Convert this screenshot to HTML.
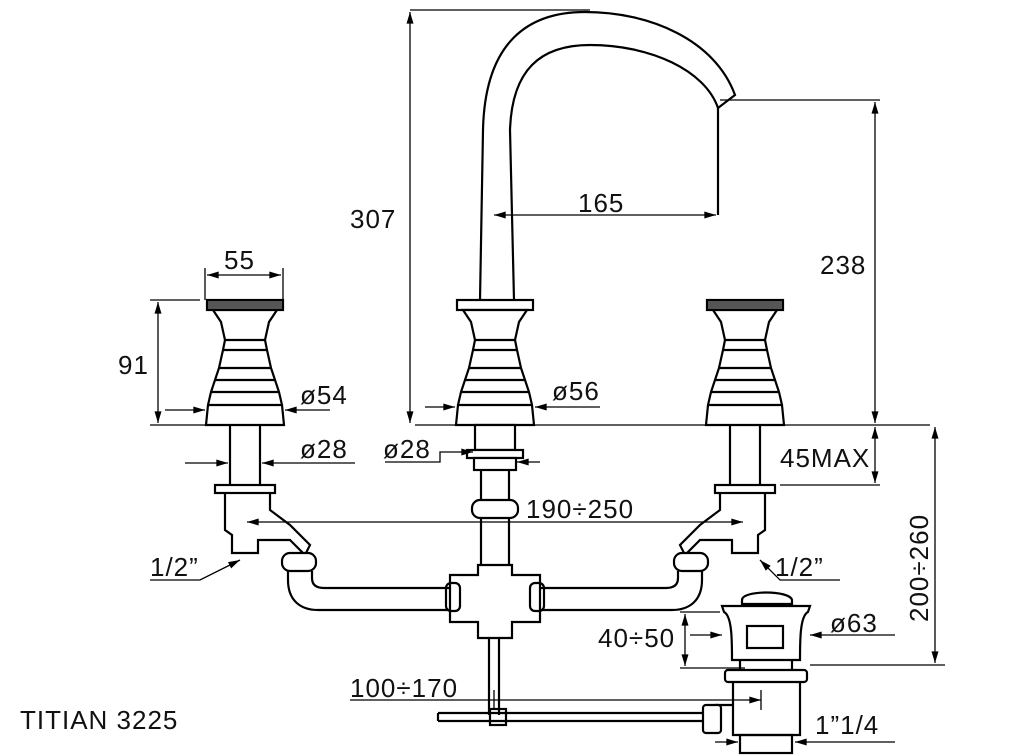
<!DOCTYPE html>
<html><head><meta charset="utf-8"><style>
html,body{margin:0;padding:0;background:#fff}
svg{display:block}
text{font-family:"Liberation Sans",sans-serif;font-size:26px;fill:#111;letter-spacing:1px}
</style></head><body>
<svg width="1024" height="755" viewBox="0 0 1024 755" xmlns="http://www.w3.org/2000/svg">
<defs>
<marker id="a" viewBox="0 0 10 6" refX="10" refY="3" markerWidth="16" markerHeight="7" orient="auto-start-reverse" markerUnits="userSpaceOnUse"><path d="M0,0L10,3L0,6z" fill="#000"/></marker>
<g id="h" fill="#fff" stroke="#000" stroke-width="2.2">
<rect x="-38" y="300" width="76" height="10"/>
<path d="M-32,310 L-24,322 L-20,340 L-22,350 L-26,368 L-30,380 L-34,392 L-37,405 L-39,425 L39,425 L37,405 L34,392 L30,380 L26,368 L22,350 L20,340 L24,322 L32,310Z"/>
<path d="M-20,340H20M-22,350H22M-26,368H26M-30,380H30M-34,392H34M-37,405H37"/>
</g>
<g id="hk"><rect x="-38" y="300" width="76" height="10" fill="#555" stroke="#000" stroke-width="2"/></g>
</defs>
<g fill="none" stroke="#000" stroke-width="2.2">
<path d="M480,300 L483,130 C485,40 530,12 585,12 C650,12 715,40 735,95 L718,108 C705,70 650,45 590,45 C540,45 512,70 510,130 L514,300"/>
<path d="M718,108 L718,215"/>
<use href="#h" transform="translate(495,0)"/>
<use href="#h" transform="translate(245,0)"/>
<use href="#h" transform="translate(745,0)"/>
<use href="#hk" transform="translate(245,0)"/>
<use href="#hk" transform="translate(745,0)"/>
<rect x="475" y="425" width="40" height="25" fill="#fff"/>
<rect x="467" y="450" width="56" height="8" fill="#fff"/>
<rect x="474" y="458" width="42" height="12" fill="#fff"/>
<path d="M481,470V500M509,470V500"/>
<rect x="472" y="500" width="46" height="18" rx="8" fill="#fff"/>
<path d="M481,518V565M509,518V565"/>
<path d="M230,425V485M260,425V485M730,425V485M760,425V485"/>
<rect x="215" y="485" width="60" height="8" fill="#fff"/>
<rect x="715" y="485" width="60" height="8" fill="#fff"/>
<path d="M225,493 L225,530 L232,535 L232,553 L258,553 L258,540 L290,540 L305,555 L310,545 L290,525 L270,510 L270,493"/>
<path d="M765,493 L765,530 L758,535 L758,553 L732,553 L732,540 L700,540 L685,555 L680,545 L700,525 L720,510 L720,493"/>
<rect x="282" y="553" width="34" height="18" rx="8" fill="#fff"/>
<rect x="674" y="553" width="34" height="18" rx="8" fill="#fff"/>
<path d="M288,571 L288,580 C288,600 300,610 318,610 L450,610 M312,571 L312,578 C312,586 318,588 324,588 L450,588"/>
<path d="M702,571 L702,580 C702,600 690,610 672,610 L540,610 M678,571 L678,578 C678,586 672,588 666,588 L540,588"/>
<path d="M450,575 L478,575 L478,565 L512,565 L512,575 L540,575 L540,622 L512,622 L512,638 L478,638 L478,622 L450,622Z" fill="#fff"/>
<rect x="446" y="583" width="14" height="28" rx="5"/>
<rect x="530" y="583" width="14" height="28" rx="5"/>
<path d="M489,638V715M499,638V715"/>
<path d="M438,713 L710,713 M438,721 L710,721 M438,713V721"/>
<rect x="490" y="709" width="16" height="16"/>
<path d="M742,600 C742,590 790,590 792,600 L792,604 L742,604Z" fill="#fff"/>
<path d="M722,606 L810,606 L808,612 C800,616 800,640 800,660 L732,660 C732,640 732,616 724,612Z" fill="#fff"/>
<rect x="747" y="626" width="36" height="22"/>
<path d="M740,660V670M792,660V670"/>
<rect x="725" y="670" width="82" height="12" rx="3" fill="#fff"/>
<path d="M733,682 L733,735 L800,735 L800,682 M715,705 L733,705"/>
<rect x="703" y="705" width="18" height="28" rx="3" fill="#fff"/>
<rect x="740" y="735" width="52" height="18"/>
</g>
<g fill="none" stroke="#000" stroke-width="1.3">
<path d="M410,10H590M415,425H930M720,100H880M780,485H880M810,665H945M150,300H200M150,425H205M205,300V268M283,300V268M680,612H720M680,668H745"/>
<path d="M410,12V423" marker-start="url(#a)" marker-end="url(#a)"/>
<path d="M875,102V423" marker-start="url(#a)" marker-end="url(#a)"/>
<path d="M875,427V483" marker-start="url(#a)" marker-end="url(#a)"/>
<path d="M935,427V663" marker-start="url(#a)" marker-end="url(#a)"/>
<path d="M494,215H716" marker-start="url(#a)" marker-end="url(#a)"/>
<path d="M207,275H281" marker-start="url(#a)" marker-end="url(#a)"/>
<path d="M158,302V423" marker-start="url(#a)" marker-end="url(#a)"/>
<path d="M247,522H743" marker-start="url(#a)" marker-end="url(#a)"/>
<path d="M685,614V666" marker-start="url(#a)" marker-end="url(#a)"/>
<path d="M165,410H205" marker-end="url(#a)"/>
<path d="M330,410H285" marker-end="url(#a)"/>
<path d="M185,463H228" marker-end="url(#a)"/>
<path d="M355,463H262" marker-end="url(#a)"/>
<path d="M425,407H455" marker-end="url(#a)"/>
<path d="M600,407H535" marker-end="url(#a)"/>
<path d="M385,462H440V452H473" marker-end="url(#a)"/>
<path d="M540,462H517" marker-end="url(#a)"/>
<path d="M150,580H200L240,560" marker-end="url(#a)"/>
<path d="M840,580H780L760,560" marker-end="url(#a)"/>
<path d="M690,635H722" marker-end="url(#a)"/>
<path d="M895,635H810" marker-end="url(#a)"/>
<path d="M350,700H761" marker-end="url(#a)"/>
<path d="M761,690V710M494,690V710"/>
<path d="M715,742H738" marker-end="url(#a)"/>
<path d="M895,742H795" marker-end="url(#a)"/>
</g>
<text x="350" y="228">307</text>
<text x="578" y="212">165</text>
<text x="820" y="274">238</text>
<text x="780" y="467">45MAX</text>
<text x="224" y="269">55</text>
<text x="118" y="374">91</text>
<text x="300" y="404">ø54</text>
<text x="300" y="458">ø28</text>
<text x="383" y="458">ø28</text>
<text x="552" y="400">ø56</text>
<text x="526" y="518">190÷250</text>
<text x="150" y="576">1/2”</text>
<text x="775" y="576">1/2”</text>
<text x="830" y="632">ø63</text>
<text x="598" y="647">40÷50</text>
<text x="350" y="697">100÷170</text>
<text x="815" y="734">1”1/4</text>
<text x="20" y="729">TITIAN  3225</text>
<text transform="translate(928,622) rotate(-90)">200÷260</text>
</svg>
</body></html>
